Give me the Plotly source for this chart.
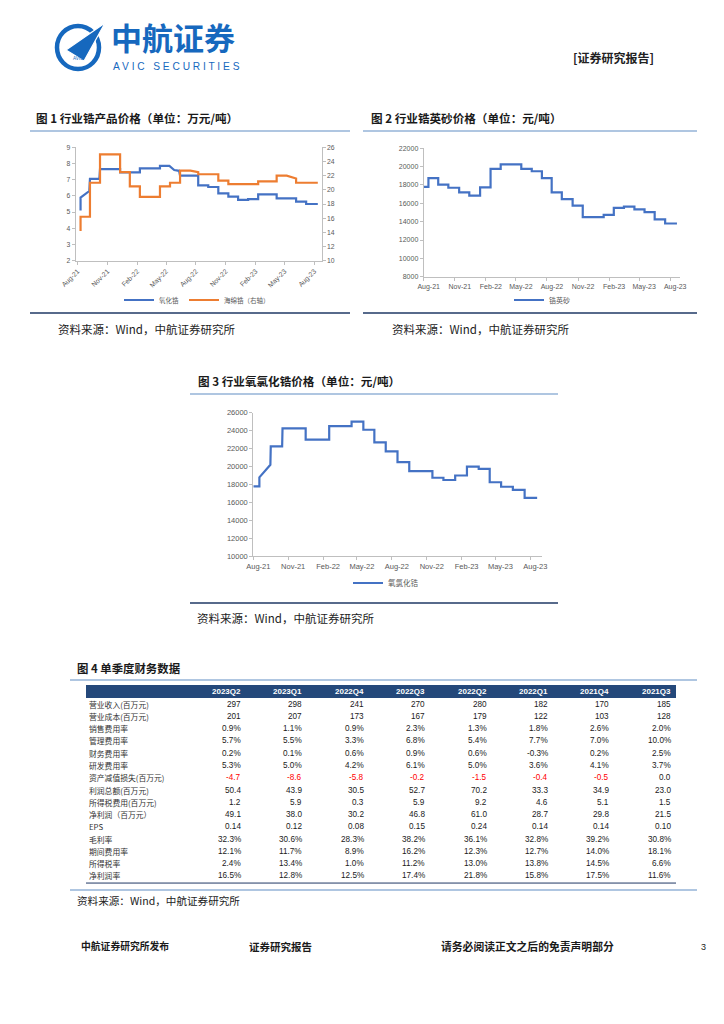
import plotly.graph_objects as go

PAGE_W, PAGE_H = 724, 1024
OFF = 8  # browser body margin
W, H = PAGE_W - 2 * OFF, PAGE_H - 2 * OFF

# ---------------- data ----------------
tick_dates = ["2021-08-01", "2021-11-01", "2022-02-01", "2022-05-01", "2022-08-01",
              "2022-11-01", "2023-02-01", "2023-05-01", "2023-08-01"]
tick_text = ["Aug-21", "Nov-21", "Feb-22", "May-22", "Aug-22", "Nov-22", "Feb-23", "May-23", "Aug-23"]

# Chart 1: 氧化锆 (left axis, 万元/吨)
zro2_dates = ["2021-08-10", "2021-08-10", "2021-09-06", "2021-09-08", "2021-10-07", "2021-10-09",
              "2021-12-10", "2021-12-10", "2022-02-09", "2022-02-09", "2022-04-12", "2022-04-12",
              "2022-05-11", "2022-05-26", "2022-06-10", "2022-06-13", "2022-08-08", "2022-08-08",
              "2022-09-08", "2022-09-08", "2022-10-09", "2022-10-09", "2022-11-09", "2022-11-09",
              "2022-12-09", "2022-12-09", "2023-01-09", "2023-01-09", "2023-02-09", "2023-02-09",
              "2023-04-07", "2023-04-07", "2023-06-06", "2023-06-06", "2023-07-07", "2023-07-07",
              "2023-08-12"]
zro2_vals = [5.1, 5.9, 6.3, 7.05, 7.05, 7.65,
             7.65, 7.45, 7.45, 7.7, 7.7, 7.85,
             7.85, 7.6, 7.55, 7.25, 7.25, 6.65,
             6.65, 6.55, 6.55, 6.15, 6.15, 5.95,
             5.95, 5.75, 5.75, 5.8, 5.8, 6.1,
             6.1, 5.85, 5.85, 5.65, 5.65, 5.5,
             5.5]

# Chart 1: 海绵锆 (right axis)
sponge_dates = ["2021-08-10", "2021-08-10", "2021-09-08", "2021-09-08", "2021-10-09", "2021-10-09",
                "2021-12-10", "2021-12-10", "2022-01-09", "2022-01-09", "2022-02-09", "2022-02-09",
                "2022-04-12", "2022-04-12", "2022-05-13", "2022-05-13", "2022-06-13", "2022-06-13",
                "2022-07-15", "2022-08-08", "2022-08-08", "2022-10-09", "2022-10-09", "2022-11-09",
                "2022-11-09", "2023-02-09", "2023-02-09", "2023-04-07", "2023-04-07", "2023-05-08",
                "2023-06-06", "2023-06-06", "2023-08-12"]
sponge_vals = [14.2, 16.2, 16.2, 21, 21, 25,
               25, 22.5, 22.5, 20.5, 20.5, 19,
               19, 20.5, 20.5, 21, 21, 22.7,
               22.7, 22.5, 22.2, 22.2, 21.3, 21.3,
               20.8, 20.8, 21.2, 21.2, 22, 22,
               21.6, 21, 21]

# Chart 2: 锆英砂 (元/吨), step values
zircon_dates = ["2021-08-01", "2021-08-15", "2021-09-13", "2021-10-13", "2021-11-14", "2021-12-14",
                "2022-01-15", "2022-02-15", "2022-03-17", "2022-05-17", "2022-06-17", "2022-07-17",
                "2022-08-15", "2022-09-14", "2022-10-16", "2022-11-15", "2023-01-16", "2023-02-15",
                "2023-03-17", "2023-04-17", "2023-05-17", "2023-06-16", "2023-07-17", "2023-08-21"]
zircon_vals = [17800, 18750, 18050, 17700, 17200, 16850,
               17750, 19750, 20250, 19750, 19500, 18750,
               17200, 16450, 15750, 14500, 14750, 15500,
               15650, 15350, 15050, 14250, 13800, 13800]

# Chart 3: 氧氯化锆 (元/吨)
zoc_dates = ["2021-08-01", "2021-08-17", "2021-08-17", "2021-09-15", "2021-09-16", "2021-10-16",
             "2021-10-17", "2021-12-17", "2021-12-17", "2022-02-17", "2022-02-17", "2022-04-17",
             "2022-04-17", "2022-05-18", "2022-05-18", "2022-06-16", "2022-06-16", "2022-07-16",
             "2022-07-16", "2022-08-16", "2022-08-16", "2022-09-16", "2022-09-16", "2022-11-16",
             "2022-11-16", "2022-12-15", "2022-12-15", "2023-01-15", "2023-01-15", "2023-02-15",
             "2023-02-15", "2023-03-18", "2023-03-18", "2023-04-16", "2023-04-16", "2023-05-16",
             "2023-05-16", "2023-06-16", "2023-06-16", "2023-07-17", "2023-07-17", "2023-08-19"]
zoc_vals = [17780, 17780, 18800, 20200, 22250, 22250,
            24250, 24250, 23000, 23000, 24500, 24500,
            25000, 25000, 24100, 24100, 22700, 22700,
            21700, 21700, 20500, 20500, 19500, 19500,
            18750, 18750, 18500, 18500, 19000, 19000,
            20000, 20000, 19750, 19750, 18250, 18250,
            17750, 17750, 17400, 17400, 16500, 16500]

# Table 4: 单季度财务数据
quarters = ["2023Q2", "2023Q1", "2022Q4", "2022Q3", "2022Q2", "2022Q1", "2021Q4", "2021Q3"]
row_labels = ["营业收入(百万元)", "营业成本(百万元)", "销售费用率", "管理费用率", "财务费用率",
              "研发费用率", "资产减值损失(百万元)", "利润总额(百万元)", "所得税费用(百万元)",
              "净利润（百万元）", "EPS", "毛利率", "期间费用率", "所得税率", "净利润率"]
revenue = [297, 298, 241, 270, 280, 182, 170, 185]
cost = [201, 207, 173, 167, 179, 122, 103, 128]
sales_exp = [0.9, 1.1, 0.9, 2.3, 1.3, 1.8, 2.6, 2.0]
admin_exp = [5.7, 5.5, 3.3, 6.8, 5.4, 7.7, 7.0, 10.0]
fin_exp = [0.2, 0.1, 0.6, 0.9, 0.6, -0.3, 0.2, 2.5]
rd_exp = [5.3, 5.0, 4.2, 6.1, 5.0, 3.6, 4.1, 3.7]
impairment = [-4.7, -8.6, -5.8, -0.2, -1.5, -0.4, -0.5, 0.0]
total_profit = [50.4, 43.9, 30.5, 52.7, 70.2, 33.3, 34.9, 23.0]
income_tax = [1.2, 5.9, 0.3, 5.9, 9.2, 4.6, 5.1, 1.5]
net_profit = [49.1, 38.0, 30.2, 46.8, 61.0, 28.7, 29.8, 21.5]
eps = [0.14, 0.12, 0.08, 0.15, 0.24, 0.14, 0.14, 0.10]
gross_margin = [32.3, 30.6, 28.3, 38.2, 36.1, 32.8, 39.2, 30.8]
period_exp = [12.1, 11.7, 8.9, 16.2, 12.3, 12.7, 14.0, 18.1]
tax_rate = [2.4, 13.4, 1.0, 11.2, 13.0, 13.8, 14.5, 6.6]
net_margin = [16.5, 12.8, 12.5, 17.4, 21.8, 15.8, 17.5, 11.6]

table_rows = [revenue, cost, sales_exp, admin_exp, fin_exp, rd_exp, impairment, total_profit,
              income_tax, net_profit, eps, gross_margin, period_exp, tax_rate, net_margin]
row_formats = ["{:.0f}", "{:.0f}", "{:.1f}%", "{:.1f}%", "{:.1f}%", "{:.1f}%", "{:.1f}", "{:.1f}",
               "{:.1f}", "{:.1f}", "{:.2f}", "{:.1f}%", "{:.1f}%", "{:.1f}%", "{:.1f}%"]

# ---------------- styles ----------------
BLUE = "#4472C4"
ORANGE = "#ED7D31"
AXIS = "#BFBFBF"
TICKC = "#595959"
CJK = "Noto Sans CJK SC"
LAT = "Liberation Sans"
LOGO = "#1668BE"
TITLE_LINE = "#95B3D7"
SRC_LINE = "#1F3864"
HEADER = "#24487A"


def px(x):
    return (x - OFF) / W


def py(y):
    return 1 - (y - OFF) / H


fig = go.Figure()

# Chart 1
fig.add_trace(go.Scatter(x=zro2_dates, y=zro2_vals, mode="lines", name="氧化锆",
                         line=dict(color=BLUE, width=2.2), xaxis="x", yaxis="y", legend="legend"))
fig.add_trace(go.Scatter(x=sponge_dates, y=sponge_vals, mode="lines", name="海绵锆（右轴）",
                         line=dict(color=ORANGE, width=2.2), xaxis="x", yaxis="y2", legend="legend"))
# Chart 2
fig.add_trace(go.Scatter(x=zircon_dates, y=zircon_vals, mode="lines", name="锆英砂",
                         line=dict(color=BLUE, width=2.2, shape="hv"), xaxis="x2", yaxis="y3",
                         legend="legend2"))
# Chart 3
fig.add_trace(go.Scatter(x=zoc_dates, y=zoc_vals, mode="lines", name="氧氯化锆",
                         line=dict(color=BLUE, width=2.2), xaxis="x3", yaxis="y4", legend="legend3"))


def xax(domain, rng, anchor, angle, size, shift):
    return dict(domain=domain, anchor=anchor, type="date", range=rng,
                tickmode="array", tickvals=tick_dates, ticktext=tick_text, tickangle=angle,
                tickfont=dict(family=LAT, size=size, color=TICKC), ticklabelshift=shift,
                ticks="outside", ticklen=3, tickcolor=AXIS, showline=True, linecolor=AXIS,
                linewidth=1, showgrid=False, zeroline=False, automargin=False)


def yax(domain, rng, dtick, anchor, size, **kw):
    d = dict(domain=domain, anchor=anchor, range=rng, dtick=dtick, tickformat="d",
             tickfont=dict(family=LAT, size=size, color=TICKC), ticks="outside", ticklen=3,
             tickcolor=AXIS, showline=True, linecolor=AXIS, linewidth=1, showgrid=False,
             zeroline=False, automargin=False)
    d.update(kw)
    return d


fig.update_layout(
    width=W, height=H, margin=dict(l=0, r=0, t=0, b=0, pad=0, autoexpand=False),
    paper_bgcolor="white", plot_bgcolor="white",
    xaxis=xax([px(75.7), px(321.7)], ["2021-07-26", "2023-08-24"], "y", -45, 6.8, 0),
    yaxis=yax([py(260.7), py(147.3)], [2, 9], 1, "x", 6.8),
    yaxis2=yax([py(260.7), py(147.3)], [10, 26], 2, "x", 6.8, overlaying="y", side="right"),
    xaxis2=xax([px(423.7), px(680)], ["2021-08-01", "2023-08-30"], "y3", 0, 7, 5),
    yaxis3=yax([py(276.7), py(148.3)], [8000, 22000], 2000, "x2", 7),
    xaxis3=xax([px(253.3), px(541.7)], ["2021-08-01", "2023-08-31"], "y4", 0, 7.5, 5),
    yaxis4=yax([py(556.3), py(412.7)], [10000, 26000], 2000, "x3", 7.5),
    legend=dict(x=px(197), y=py(300), xanchor="center", yanchor="middle", orientation="h",
                font=dict(family=CJK, size=6.5, color=TICKC), bgcolor="rgba(0,0,0,0)"),
    legend2=dict(x=px(542), y=py(300), xanchor="center", yanchor="middle", orientation="h",
                 font=dict(family=CJK, size=7, color=TICKC), bgcolor="rgba(0,0,0,0)"),
    legend3=dict(x=px(386), y=py(583), xanchor="center", yanchor="middle", orientation="h",
                 font=dict(family=CJK, size=7.5, color=TICKC), bgcolor="rgba(0,0,0,0)"),
    showlegend=True,
)

shapes = []


def hline(x0, x1, y, color, width):
    shapes.append(dict(type="line", xref="paper", yref="paper", x0=px(x0), x1=px(x1),
                       y0=py(y), y1=py(y), line=dict(color=color, width=width)))


# title underlines
hline(30, 350, 131, TITLE_LINE, 1.5)
hline(363, 697, 131, TITLE_LINE, 1.5)
hline(190, 558, 394, TITLE_LINE, 1.5)
hline(70, 697, 680, TITLE_LINE, 1.5)
# source overlines
hline(30, 350, 313, SRC_LINE, 1.3)
hline(363, 697, 313, SRC_LINE, 1.3)
hline(190, 558, 603, SRC_LINE, 1.3)

# ---- table layout ----
TBL_L, TBL_R = 86, 676
HDR_TOP, HDR_BOT = 685, 698
ROW_H = 12.27
COL_R0, COL_STEP = 242, 61.4
shapes.append(dict(type="rect", xref="paper", yref="paper", x0=px(TBL_L), x1=px(TBL_R),
                   y0=py(HDR_BOT), y1=py(HDR_TOP), fillcolor=HEADER, line=dict(width=0)))
tbl_bottom = HDR_BOT + ROW_H * len(row_labels) + 1
hline(TBL_L, TBL_R, tbl_bottom, SRC_LINE, 1.0)
hline(70, 697, tbl_bottom + 7, TITLE_LINE, 1.5)

# logo ring and plane
shapes.append(dict(type="circle", xref="paper", yref="paper", x0=px(57), x1=px(99),
                   y0=py(69), y1=py(26), line=dict(color=LOGO, width=4.5)))
shapes.append(dict(type="path", xref="paper", yref="paper",
                   path="M %f,%f L %f,%f L %f,%f Z" % (px(66), py(50), px(105), py(23), px(84), py(61)),
                   fillcolor=LOGO, line=dict(color="white", width=1.2)))
fig.update_layout(shapes=shapes)

ann = []


def text(x, y, s, size, color="#1a1a1a", family=CJK, anchor="left", vanchor="middle"):
    ann.append(dict(x=px(x), y=py(y), xref="paper", yref="paper", text=s, showarrow=False,
                    xanchor=anchor, yanchor=vanchor, borderpad=0,
                    font=dict(family=family, size=size, color=color)))


# table texts
for j, q in enumerate(quarters):
    text(COL_R0 + COL_STEP * j, (HDR_TOP + HDR_BOT) / 2, "<b>%s</b>" % q, 8, "white", LAT, "right")
for r, lab in enumerate(row_labels):
    yc = HDR_BOT + ROW_H * (r + 0.5)
    text(88, yc, lab, 7.8, "#333333", CJK, "left")
    for j in range(len(quarters)):
        v = table_rows[r][j]
        col = "#FF0000" if (r == 6 and v < 0) else "#1a1a1a"
        text(COL_R0 + COL_STEP * j, yc, row_formats[r].format(v), 8.2, col, LAT, "right")

text(35, 118, "<b>图 1 行业锆产品价格（单位：万元/吨）</b>", 11.6)
text(370, 118, "<b>图 2 行业锆英砂价格（单位：元/吨）</b>", 11.6)
text(197, 381, "<b>图 3 行业氧氯化锆价格（单位：元/吨）</b>", 11.6)
text(76, 668, "<b>图 4 单季度财务数据</b>", 11.4)
for (sx, sy, fs) in [(57, 329, 11.5), (391, 329, 11.5), (196, 618, 11.5), (76, 900, 10.6)]:
    text(sx, sy, "资料来源：Wind，中航证券研究所", fs, "#222222")

text(110, 59.5, "<b>中航证券</b>", 31, LOGO, CJK, "left", "bottom")
text(112, 59.5, "A V I C   S E C U R I T I E S", 10.2, LOGO, LAT, "left", "top")
text(78, 58, "AVIC", 4.5, LOGO, LAT, "center")
text(572, 57, "<b>[证券研究报告]</b>", 12, "#222222")

text(80, 946, "<b>中航证券研究所发布</b>", 9.8)
text(248, 946, "<b>证券研究报告</b>", 10.5)
text(440, 946, "<b>请务必阅读正文之后的免责声明部分</b>", 10.8)
text(700, 947, "3", 9, "#1a1a1a", LAT)

fig.update_layout(annotations=ann)

fig.write_html("out.html")
